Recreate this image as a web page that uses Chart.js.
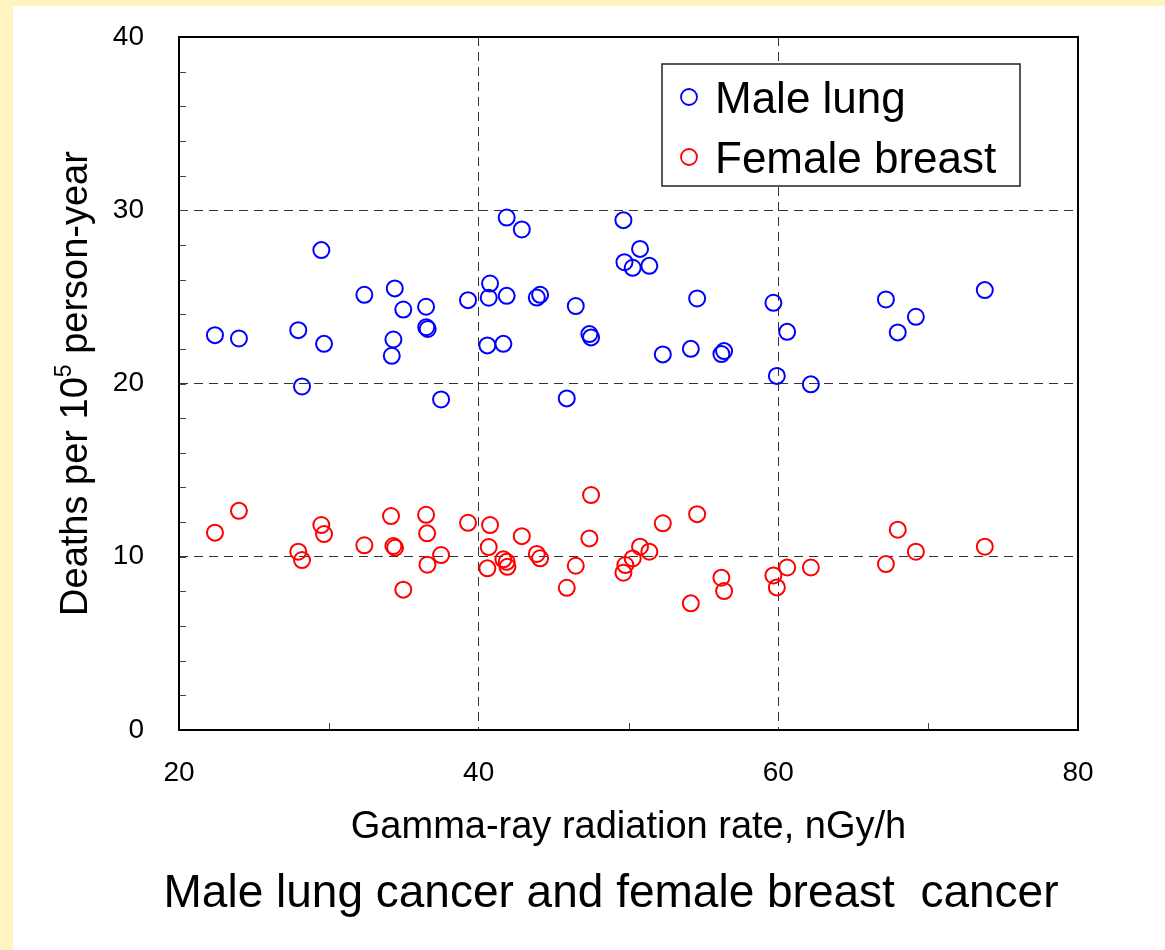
<!DOCTYPE html>
<html>
<head>
<meta charset="utf-8">
<script src="https://cdn.jsdelivr.net/npm/chart.js@4/dist/chart.umd.min.js"></script>
<style>
  html, body { margin: 0; padding: 0; background: #FFF4C2; }
  #wrap { position: absolute; left: 13px; top: 6px; width: 1152px; height: 944px; background: #fff; }
</style>
</head>
<body>
<div id="wrap"><canvas id="scatter" width="1152" height="944"></canvas></div>
<script>
// data (one point per prefecture)
const maleLungX = [22.4, 24.0, 29.5, 27.96, 29.68, 28.21, 32.37, 34.4, 34.97, 36.49,
  36.5, 36.6, 34.31, 34.2, 37.49, 39.29, 40.76, 40.67, 41.87, 41.87,
  42.88, 40.58, 41.65, 43.88, 44.1, 46.48, 45.88, 47.39, 47.5, 49.66,
  49.73, 50.77, 50.28, 51.39, 54.58, 52.29, 54.16, 56.2, 56.38, 59.67,
  60.59, 59.9, 62.17, 67.18, 69.18, 67.97, 73.78];
const maleLungY = [22.79, 22.6, 27.7, 23.08, 22.29, 19.83, 25.12, 25.49, 24.27, 24.43,
  23.25, 23.15, 22.54, 21.6, 19.08, 24.81, 25.77, 24.95, 25.06, 29.58,
  28.89, 22.2, 22.29, 24.96, 25.12, 24.47, 19.14, 22.85, 22.66, 29.43,
  27.0, 27.77, 26.68, 26.79, 24.91, 21.68, 22.0, 21.7, 21.87, 24.66,
  22.98, 20.44, 19.95, 24.85, 23.85, 22.95, 25.39];

const femaleBreastX = [22.4, 24.0, 27.96, 28.21, 29.5, 29.68, 32.37, 34.15, 34.31, 34.42,
  34.97, 36.49, 36.56, 36.58, 37.49, 39.29, 40.76, 40.67, 40.58, 41.65,
  41.87, 41.92, 42.88, 43.88, 44.1, 46.48, 45.88, 47.5, 47.39, 49.66,
  49.79, 50.28, 50.77, 51.39, 52.29, 54.58, 54.16, 56.2, 56.38, 59.67,
  60.59, 59.9, 62.17, 67.18, 67.97, 69.18, 73.78];
const femaleBreastY = [11.39, 12.65, 10.29, 9.81, 11.83, 11.31, 10.66, 12.35, 10.62, 10.52,
  8.1, 12.42, 11.35, 9.54, 10.1, 11.96, 11.83, 10.56, 9.33, 9.85,
  9.71, 9.42, 11.19, 10.16, 9.91, 9.48, 8.21, 13.56, 11.06, 9.08,
  9.52, 9.9, 10.58, 10.29, 11.93, 12.46, 7.31, 8.79, 8.02, 8.92,
  9.38, 8.23, 9.38, 9.58, 11.56, 10.29, 10.58];

const xTicks = [20, 40, 60, 80];
const yTicks = [0, 10, 20, 30, 40];
const seriesNames = ['Male lung', 'Female breast'];
const seriesColors = ['#0000FF', '#FF0000'];
const xTitle = 'Gamma-ray radiation rate, nGy/h';
const caption = 'Male lung cancer and female breast  cancer';

const FONT = "'Liberation Sans', Arial, sans-serif";

function toPoints(xs, ys) {
  return xs.map((x, i) => ({ x: x, y: ys[i] }));
}

// minor ticks, frame, legend box, y title and caption
const decorations = {
  id: 'decorations',
  afterDatasetsDraw(chart) {
    const { ctx, chartArea: a, scales } = chart;
    const x = scales.x, y = scales.y;
    ctx.save();

    // inner minor ticks
    ctx.strokeStyle = '#444';
    ctx.lineWidth = 1;
    ctx.beginPath();
    for (let v = 2; v < 40; v += 2) {
      const py = Math.round(y.getPixelForValue(v)) + 0.5;
      ctx.moveTo(a.left, py);
      ctx.lineTo(a.left + 7, py);
    }
    for (let v = 30; v < 80; v += 20) {
      const px = Math.round(x.getPixelForValue(v)) + 0.5;
      ctx.moveTo(px, a.bottom);
      ctx.lineTo(px, a.bottom - 7);
    }
    ctx.stroke();

    // frame
    ctx.strokeStyle = '#000';
    ctx.lineWidth = 2;
    ctx.strokeRect(a.left, a.top, a.right - a.left, a.bottom - a.top);

    // legend box
    const lx = 649, ly = 58, lw = 358, lh = 122;
    ctx.fillStyle = '#fff';
    ctx.fillRect(lx, ly, lw, lh);
    ctx.strokeStyle = '#222';
    ctx.lineWidth = 1.5;
    ctx.strokeRect(lx, ly, lw, lh);
    ctx.font = '44px ' + FONT;
    ctx.textAlign = 'left';
    ctx.textBaseline = 'alphabetic';
    seriesNames.forEach((name, i) => {
      const cy = 91 + i * 60;
      ctx.beginPath();
      ctx.arc(676, cy, 8, 0, Math.PI * 2);
      ctx.strokeStyle = seriesColors[i];
      ctx.lineWidth = 1.8;
      ctx.stroke();
      ctx.fillStyle = '#000';
      ctx.fillText(name, 702, 107 + i * 60);
    });

    // y axis title with superscript
    const big = '38px ' + FONT, small = '23px ' + FONT;
    const p1 = 'Deaths per 10', p2 = '5', p3 = ' person-year';
    ctx.font = big;
    const w1 = ctx.measureText(p1).width, w3 = ctx.measureText(p3).width;
    ctx.font = small;
    const w2 = ctx.measureText(p2).width;
    const total = w1 + w2 + w3;
    ctx.translate(74, (a.top + a.bottom) / 2);
    ctx.rotate(-Math.PI / 2);
    ctx.fillStyle = '#000';
    let sx = -total / 2;
    ctx.font = big;
    ctx.fillText(p1, sx, 0);
    sx += w1;
    ctx.font = small;
    ctx.fillText(p2, sx, -16);
    sx += w2;
    ctx.font = big;
    ctx.fillText(p3, sx, 0);
    ctx.setTransform(1, 0, 0, 1, 0, 0);

    // caption under the chart
    ctx.font = '46px ' + FONT;
    ctx.textAlign = 'center';
    ctx.fillText(caption, 598, 901);
    ctx.restore();
  }
};

new Chart(document.getElementById('scatter'), {
  type: 'scatter',
  data: {
    datasets: [{
      label: seriesNames[0],
      data: toPoints(maleLungX, maleLungY),
      borderColor: seriesColors[0],
      backgroundColor: 'rgba(0,0,0,0)',
      pointRadius: 8,
      pointHoverRadius: 8,
      borderWidth: 2
    }, {
      label: seriesNames[1],
      data: toPoints(femaleBreastX, femaleBreastY),
      borderColor: seriesColors[1],
      backgroundColor: 'rgba(0,0,0,0)',
      pointRadius: 8,
      pointHoverRadius: 8,
      borderWidth: 2
    }]
  },
  options: {
    responsive: false,
    animation: false,
    layout: { padding: { left: 0, top: 31, right: 87, bottom: 0 } },
    plugins: {
      legend: { display: false },
      tooltip: { enabled: false }
    },
    scales: {
      x: {
        type: 'linear',
        min: 20,
        max: 80,
        afterFit: (s) => { s.height = 220; s.paddingLeft = 0; s.paddingRight = 0; },
        afterBuildTicks: (s) => {
          s.ticks = [20, 30, 40, 50, 60, 70, 80].map(v => ({ value: v }));
        },
        ticks: {
          padding: 26,
          color: '#000',
          maxRotation: 0,
          font: { family: FONT, size: 28 },
          callback: (v) => xTicks.includes(v) ? String(v) : ''
        },
        grid: {
          drawTicks: false,
          lineWidth: 1,
          color: (c) => (c.tick && (c.tick.value === 40 || c.tick.value === 60)) ? '#333' : 'rgba(0,0,0,0)'
        },
        border: { display: false, dash: [9, 6] },
        title: {
          display: true,
          text: xTitle,
          color: '#000',
          font: { family: FONT, size: 38 },
          padding: { top: 0, bottom: 100 }
        }
      },
      y: {
        type: 'linear',
        min: 0,
        max: 40,
        afterFit: (s) => { s.width = 166; s.paddingTop = 0; s.paddingBottom = 0; },
        afterBuildTicks: (s) => {
          s.ticks = yTicks.map(v => ({ value: v }));
        },
        ticks: {
          padding: 35,
          color: '#000',
          font: { family: FONT, size: 28 }
        },
        grid: {
          drawTicks: false,
          lineWidth: 1,
          color: (c) => (c.tick && c.tick.value > 0 && c.tick.value < 40) ? '#333' : 'rgba(0,0,0,0)'
        },
        border: { display: false, dash: [9, 6] }
      }
    }
  },
  plugins: [decorations]
});
</script>
</body>
</html>
